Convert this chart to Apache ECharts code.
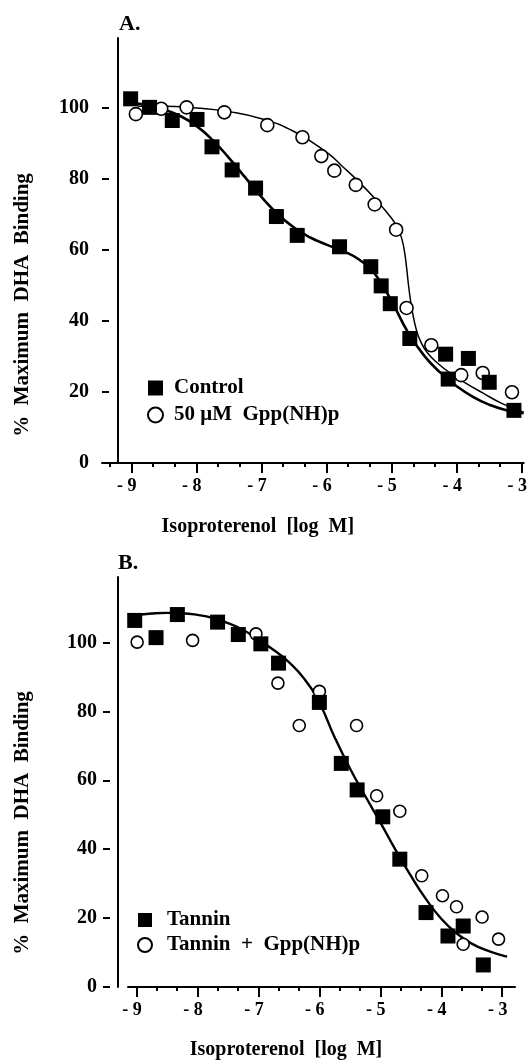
<!DOCTYPE html>
<html>
<head>
<meta charset="utf-8">
<script src="https://cdn.jsdelivr.net/npm/echarts@6.0.0/dist/echarts.min.js"></script>
<style>
html, body { margin: 0; padding: 0; background: #fff; }
#chart { width: 530px; height: 1063px; }
</style>
</head>
<body>
<div id="chart"></div>
<script>
var FONT = '"Liberation Serif", "Times New Roman", serif';

// ticks
var xTicks = [-9, -8, -7, -6, -5, -4, -3];
var xTickLabels = ['- 9', '- 8', '- 7', '- 6', '- 5', '- 4', '- 3'];
var yTicks = [0, 20, 40, 60, 80, 100];

// panel A - control (squares)
var controlA = [[-9.01,102.4],[-8.72,100.0],[-8.37,96.3],[-7.99,96.6],[-7.76,88.9],[-7.45,82.4],
  [-7.09,77.3],[-6.77,69.3],[-6.45,64.0],[-5.80,60.8],[-5.32,55.2],[-5.16,49.8],[-5.02,44.8],
  [-4.72,35.0],[-4.17,30.6],[-3.82,29.4],[-4.13,23.6],[-3.50,22.7],[-3.12,14.8]];
// panel A - 50 uM Gpp(NH)p (circles)
var gppA = [[-8.93,98.1],[-8.54,99.6],[-8.15,100.0],[-7.57,98.6],[-6.91,95.0],[-6.37,91.6],
  [-6.08,86.3],[-5.88,82.2],[-5.55,78.2],[-5.26,72.7],[-4.93,65.6],[-4.77,43.6],[-4.39,33.1],
  [-3.93,24.7],[-3.60,25.3],[-3.15,19.9]];
// fitted curves
var controlCurveA = [[-9.0,101.2],[-8.75,100.6],[-8.5,99.4],[-8.25,97.6],[-8.0,94.8],[-7.75,90.8],
  [-7.5,85.8],[-7.25,80.3],[-7.0,74.8],[-6.75,70.0],[-6.5,66.2],[-6.25,63.4],[-6.0,61.4],
  [-5.75,59.6],[-5.5,57.2],[-5.25,53.0],[-5.0,45.5],[-4.75,36.8],[-4.5,30.2],[-4.25,25.4],
  [-4.0,21.6],[-3.75,18.6],[-3.5,16.4],[-3.25,14.9],[-2.97,14.0]];
var gppCurveA = [[-8.9,100.3],[-8.5,100.3],[-8.0,99.8],[-7.5,98.8],[-7.0,96.8],[-6.5,93.2],
  [-6.0,87.4],[-5.75,83.3],[-5.5,79.0],[-5.25,74.2],[-5.0,68.8],[-4.9,65.8],[-4.84,62.8],
  [-4.8,59.2],[-4.77,55],[-4.73,48.5],[-4.68,42.5],[-4.62,37.5],[-4.55,34],[-4.45,31],
  [-4.3,28.2],[-4.1,25.3],[-3.9,22.9],[-3.6,19.7],[-3.3,16.7],[-2.97,14.3]];

// panel B - tannin (squares)
var tanninB = [[-9.03,106.4],[-8.68,101.4],[-8.33,108.1],[-7.67,105.9],[-7.33,102.3],[-6.96,99.6],
  [-6.67,94.0],[-6.00,82.6],[-5.64,64.9],[-5.38,57.2],[-4.96,49.4],[-4.68,37.1],[-4.25,21.6],
  [-3.89,14.8],[-3.64,17.7],[-3.31,6.4]];
// panel B - tannin + Gpp(NH)p (circles)
var tanninGppB = [[-8.99,100.1],[-8.08,100.6],[-7.04,102.5],[-6.68,88.2],[-6.00,85.8],[-6.33,75.9],
  [-5.39,75.9],[-5.06,55.5],[-4.68,51.0],[-4.32,32.3],[-3.98,26.5],[-3.75,23.3],[-3.64,12.4],
  [-3.33,20.3],[-3.06,13.9]];
var curveB = [[-9.1,107.8],[-8.75,108.4],[-8.5,108.6],[-8.25,108.5],[-8.0,108.0],[-7.75,107.1],
  [-7.5,105.6],[-7.25,103.6],[-7.0,100.8],[-6.75,97.8],[-6.5,94.3],[-6.25,89.5],[-6.0,82.5],
  [-5.75,72.5],[-5.5,63.5],[-5.25,55.5],[-5.0,47.8],[-4.75,39.8],[-4.5,32.3],[-4.25,25.5],
  [-4.0,19.8],[-3.75,15.6],[-3.5,12.6],[-3.25,10.6],[-3.0,9.2],[-2.92,8.8]];

var minorTicks = [];
xTicks.concat([-10]).forEach(function (t) {
  minorTicks.push(t + 1 / 3, t + 2 / 3);
});

var txt = { color: '#000', fontFamily: FONT, fontWeight: 'bold' };

function xPair(gi, min, max, nameGap, namePad) {
  return [{
    type: 'value', gridIndex: gi, min: min, max: max, position: 'bottom',
    name: 'Isoproterenol  [log  M]', nameLocation: 'middle', nameGap: nameGap,
    nameTextStyle: Object.assign({ fontSize: 20, padding: [0, namePad, 0, 0] }, txt),
    axisLine: { onZero: false, lineStyle: { color: '#000', width: 2 } },
    axisTick: { customValues: xTicks, length: 10, lineStyle: { color: '#000', width: 2 } },
    axisLabel: Object.assign({
      customValues: xTicks, fontSize: 18, margin: 14, padding: [0, 9, 0, 0],
      formatter: function (v) { return xTickLabels[xTicks.indexOf(Math.round(v))]; }
    }, txt),
    splitLine: { show: false }
  }, {
    type: 'value', gridIndex: gi, min: min, max: max, position: 'bottom',
    axisLine: { show: false },
    axisTick: { customValues: minorTicks.filter(function (m) { return m > min && m < max; }),
      length: 4, lineStyle: { color: '#000', width: 2 } },
    axisLabel: { show: false },
    splitLine: { show: false }
  }];
}

function yPair(gi, max, lineOff, tickOff, labelMargin, nameGap, namePad) {
  return [{
    type: 'value', gridIndex: gi, min: 0, max: max, position: 'left', offset: lineOff,
    axisLine: { show: true, lineStyle: { color: '#000', width: 2 } },
    axisTick: { show: false }, axisLabel: { show: false }, splitLine: { show: false }
  }, {
    type: 'value', gridIndex: gi, min: 0, max: max, position: 'left', offset: tickOff,
    name: '%  Maximum  DHA  Binding', nameLocation: 'middle', nameGap: nameGap,
    nameTextStyle: Object.assign({ fontSize: 21, padding: [0, namePad, 0, 0] }, txt),
    axisLine: { show: false },
    axisTick: { show: true, customValues: yTicks, length: 7, lineStyle: { color: '#000', width: 2 } },
    axisLabel: Object.assign({ customValues: yTicks, fontSize: 20, margin: labelMargin }, txt),
    splitLine: { show: false }
  }];
}

function squares(name, data, xi, yi, size) {
  return { name: name, type: 'scatter', xAxisIndex: xi, yAxisIndex: yi, data: data,
    symbol: 'rect', symbolSize: size, itemStyle: { color: '#000', opacity: 1 }, z: 5 };
}
function circles(name, data, xi, yi, size) {
  return { name: name, type: 'scatter', xAxisIndex: xi, yAxisIndex: yi, data: data,
    symbol: 'circle', symbolSize: size,
    itemStyle: { color: '#fff', borderColor: '#000', borderWidth: 1.6, opacity: 1 }, z: 4 };
}
function curve(data, xi, yi, w) {
  return { type: 'line', xAxisIndex: xi, yAxisIndex: yi, data: data, showSymbol: false,
    smooth: 0.5, lineStyle: { color: '#000', width: w }, z: 2, silent: true };
}

var dom = document.getElementById('chart');
var myChart = echarts.init(dom);
var option = {
  backgroundColor: '#fff',
  animation: false,
  title: [
    { text: 'A.', left: 114, top: 8, textStyle: Object.assign({ fontSize: 22 }, txt) },
    { text: 'B.', left: 113, top: 547, textStyle: Object.assign({ fontSize: 22 }, txt) }
  ],
  legend: [
    { data: ['Control', '50 μM  Gpp(NH)p'], orient: 'vertical', left: 142, top: 372,
      itemWidth: 15, itemHeight: 15, itemGap: 5, selectedMode: false,
      textStyle: Object.assign({ fontSize: 21, lineHeight: 22, padding: [0, 0, 0, 6] }, txt) },
    { data: ['Tannin', 'Tannin  +  Gpp(NH)p'], orient: 'vertical', left: 132, top: 904,
      itemWidth: 14, itemHeight: 14, itemGap: 3, selectedMode: false,
      textStyle: Object.assign({ fontSize: 21, lineHeight: 22, padding: [0, 0, 0, 10] }, txt) }
  ],
  grid: [
    { left: 102, top: 38, width: 428, height: 425 },
    { left: 128, top: 577, width: 387, height: 410 }
  ],
  xAxis: xPair(0, -9.45, -2.97, 54, 110).concat(xPair(1, -9.14, -2.79, 53, 71)),
  yAxis: yPair(0, 119.5, -16, -7, 20, 76, 109).concat(yPair(1, 119, 10, 18, 13, 77, 82)),
  series: [
    curve(controlCurveA, 0, 0, 2.6),
    curve(gppCurveA, 0, 0, 1.5),
    circles('50 μM  Gpp(NH)p', gppA, 0, 0, 13),
    squares('Control', controlA, 0, 0, 15),
    curve(curveB, 2, 2, 2.4),
    circles('Tannin  +  Gpp(NH)p', tanninGppB, 2, 2, 12),
    squares('Tannin', tanninB, 2, 2, 15)
  ]
};
if (option && typeof option === 'object') {
  myChart.setOption(option, true);
}
</script>
</body>
</html>
